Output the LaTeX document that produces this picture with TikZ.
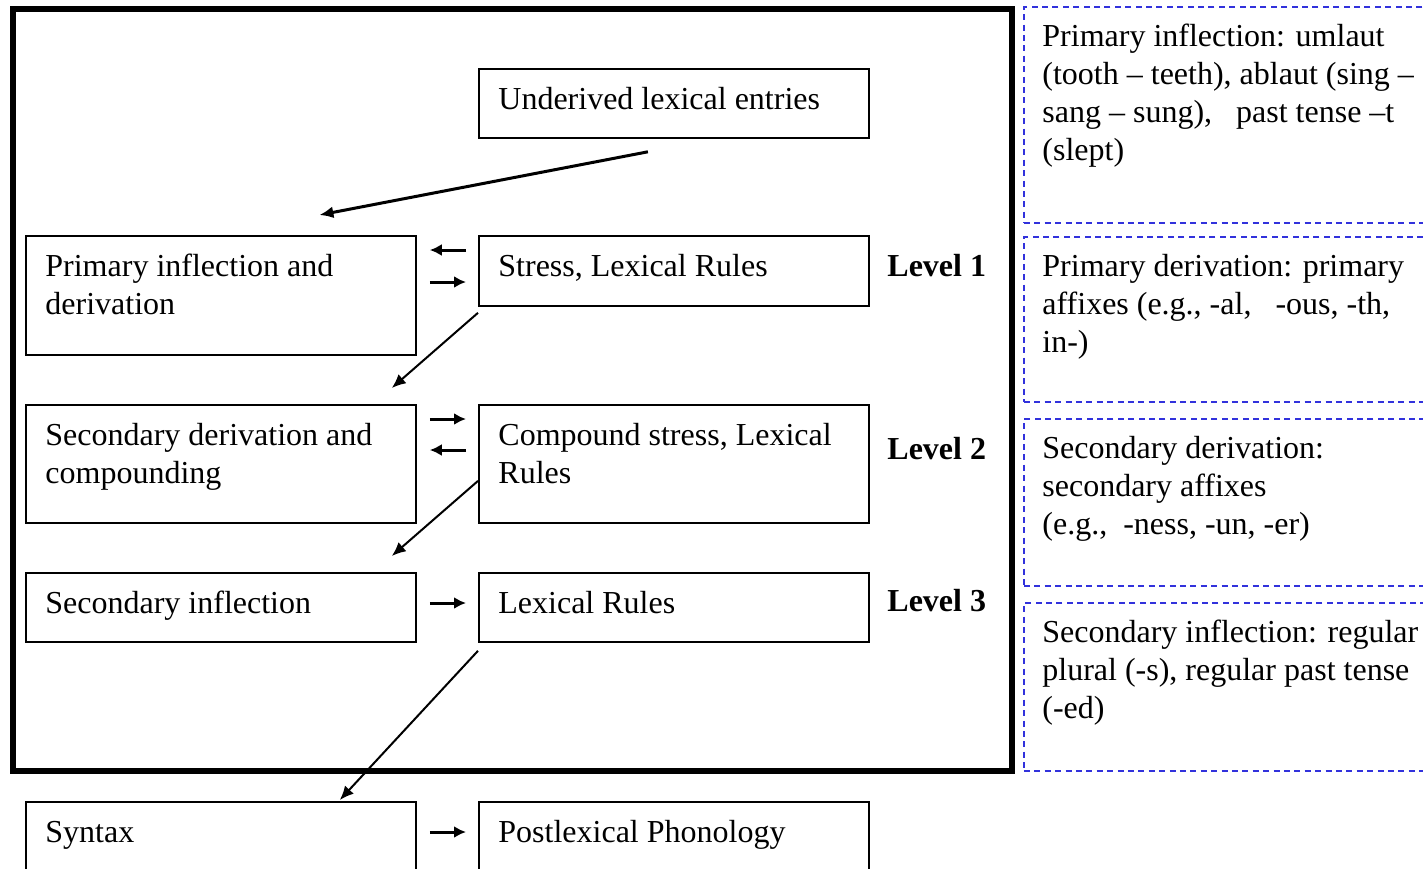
\documentclass[tikz,border=0pt]{standalone}
\usepackage{fontspec}
\setmainfont{Liberation Serif}
\usetikzlibrary{arrows.meta}
\definecolor{noteblue}{RGB}{50,50,220}

\tikzset{
  lexbox/.style={draw, line width=0.9pt, anchor=north west, inner sep=0pt, minimum width=195pt},
  boxtext/.style={anchor=north west, inner sep=0pt, align=left,
    font=\fontsize{16}{19}\selectfont},
  notebox/.style={draw=noteblue, line width=0.9pt, dash pattern=on 3pt off 2.2pt,
    anchor=north west, inner sep=0pt, minimum width=212pt},
  levellab/.style={anchor=base west, inner sep=0pt, font=\fontsize{16}{19}\selectfont\bfseries},
  flow/.style={-{Latex[length=7pt,width=6pt]}, line width=1pt},
  sideflow/.style={-{Latex[length=6pt,width=6pt]}, line width=1.5pt},
}

\begin{document}
\begin{tikzpicture}[x=0.5pt, y=-0.5pt]
  \clip (0,0) rectangle (1423,868);

  %% lexicon frame
  \draw[line width=3pt] (12.5,9) rectangle (1012,771);

  %% boxes
  \node[lexbox, minimum height=34.5pt] (under) at (478,68) {};
  \node[lexbox, minimum height=59.5pt] (prim) at (25,235) {};
  \node[lexbox, minimum height=35pt] (stress) at (478,235) {};
  \node[lexbox, minimum height=59pt] (secder) at (25,404) {};
  \node[lexbox, minimum height=59pt] (comp) at (478,404) {};
  \node[lexbox, minimum height=34.5pt] (secinf) at (25,572) {};
  \node[lexbox, minimum height=34.5pt] (lexrules) at (478,572) {};
  \node[lexbox, minimum height=42pt] (syntax) at (25,801) {};
  \node[lexbox, minimum height=42pt] (postlex) at (478,801) {};

  \node[boxtext] (undert) at ([shift={(10pt,-7pt)}]under.north west) {\strut Underived lexical entries};
  \node[boxtext] (primt) at ([shift={(10pt,-7pt)}]prim.north west) {\strut Primary inflection and\\derivation};
  \node[boxtext] (stresst) at ([shift={(10pt,-7pt)}]stress.north west) {\strut Stress, Lexical Rules};
  \node[boxtext] (secdert) at ([shift={(10pt,-7pt)}]secder.north west) {\strut Secondary derivation and\\compounding};
  \node[boxtext] (compt) at ([shift={(10pt,-7pt)}]comp.north west) {\strut Compound stress, Lexical\\Rules};
  \node[boxtext] (secinft) at ([shift={(10pt,-7pt)}]secinf.north west) {\strut Secondary inflection};
  \node[boxtext] (lexrulest) at ([shift={(10pt,-7pt)}]lexrules.north west) {\strut Lexical Rules};
  \node[boxtext] (syntaxt) at ([shift={(10pt,-7pt)}]syntax.north west) {\strut Syntax};
  \node[boxtext] (postlext) at ([shift={(10pt,-7pt)}]postlex.north west) {\strut Postlexical Phonology};

  %% levels
  \node[levellab] (lev1) at (887,276) {Level 1};
  \node[levellab] (lev2) at (887,459) {Level 2};
  \node[levellab] (lev3) at (887,611) {Level 3};

  %% notes
  \node[notebox, minimum height=108pt] (note1) at (1023,6) {};
  \node[notebox, minimum height=82.5pt] (note2) at (1023,236) {};
  \node[notebox, minimum height=83.5pt] (note3) at (1023,418) {};
  \node[notebox, minimum height=84pt] (note4) at (1023,602) {};

  \node[boxtext] (note1t) at ([shift={(9.5pt,-6.5pt)}]note1.north west)
    {\strut Primary inflection: umlaut\\(tooth – teeth), ablaut (sing –\\sang – sung),\ \ \ past tense –t\\(slept)};
  \node[boxtext] (note2t) at ([shift={(9.5pt,-6.5pt)}]note2.north west)
    {\strut Primary derivation: primary\\affixes (e.g., -al,\ \ \ -ous, -th,\\in-)};
  \node[boxtext] (note3t) at ([shift={(9.5pt,-6.5pt)}]note3.north west)
    {\strut Secondary derivation:\\secondary affixes\\(e.g.,\ \ -ness, -un, -er)};
  \node[boxtext] (note4t) at ([shift={(9.5pt,-6.5pt)}]note4.north west)
    {\strut Secondary inflection: regular\\plural (-s), regular past tense\\(-ed)};

  %% down the levels
  \draw[flow, line width=1.5pt] ([shift={(-13pt,-6.5pt)}]under.south) -- ([shift={(49.25pt,10pt)}]prim.north);
  \draw[flow] ([yshift=-3pt]stress.south west) -- ([shift={(-12.5pt,8pt)}]secder.north east);
  \draw[flow] ([yshift=-8.5pt]comp.west) -- ([shift={(-12.5pt,8pt)}]secinf.north east);
  \draw[flow] ([yshift=-4pt]lexrules.south west) -- ([shift={(-38.5pt,0.5pt)}]syntax.north east);

  %% side arrows
  \draw[sideflow] ([shift={(-6pt,-7.5pt)}]stress.north west) -- ([shift={(6.5pt,-7.5pt)}]prim.north east);
  \draw[sideflow] ([shift={(6.5pt,-23.5pt)}]prim.north east) -- ([shift={(-6pt,-23.5pt)}]stress.north west);
  \draw[sideflow] ([shift={(6.5pt,-7.5pt)}]secder.north east) -- ([shift={(-6pt,-7.5pt)}]comp.north west);
  \draw[sideflow] ([shift={(-6pt,-23pt)}]comp.north west) -- ([shift={(6.5pt,-23pt)}]secder.north east);
  \draw[sideflow] ([shift={(6.5pt,-15.5pt)}]secinf.north east) -- ([shift={(-6pt,-15.5pt)}]lexrules.north west);
  \draw[sideflow] ([shift={(6.5pt,-15.5pt)}]syntax.north east) -- ([shift={(-6pt,-15.5pt)}]postlex.north west);
\end{tikzpicture}
\end{document}
